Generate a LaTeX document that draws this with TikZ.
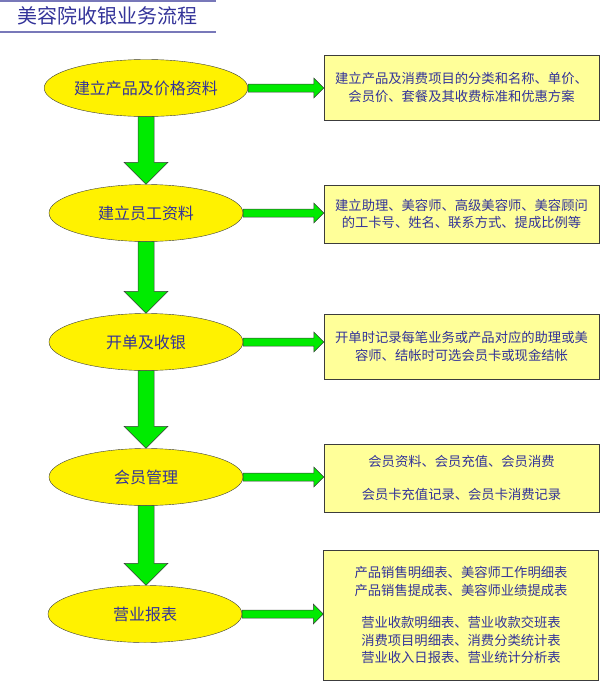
\documentclass[tikz,border=0pt]{standalone}
\usepackage{fontspec}
\newfontfamily\cjk{Noto Sans CJK SC}
\usetikzlibrary{shapes.geometric,calc}
\definecolor{txtblue}{RGB}{51,51,153}
\definecolor{lineblue}{RGB}{120,120,185}
\definecolor{notefill}{RGB}{255,255,153}
\definecolor{arrowgreen}{RGB}{0,235,0}
\definecolor{edgegray}{RGB}{60,60,60}

% block arrows between named nodes
\newcommand\varrow[2]{\draw[blockarrow] let \p1=(#1.south), \p2=(#2.north) in
  (\x1-8,\y1) -- (\x1-8,\y2+22) -- (\x1-22,\y2+22) -- (\x1,\y2) -- (\x1+22,\y2+22) -- (\x1+8,\y2+22) -- (\x1+8,\y1) -- cycle;}
\newcommand\harrow[2]{\draw[blockarrow] let \p1=(#1.east), \p2=(#1.east -| #2.west) in
  (\x1,\y1+4) -- (\x2-10,\y1+4) -- (\x2-10,\y1+10) -- (\x2,\y1) -- (\x2-10,\y1-10) -- (\x2-10,\y1-4) -- (\x1,\y1-4) -- cycle;}

\begin{document}
\begin{tikzpicture}[x=1pt,y=-1pt,
	stage/.style={ellipse,draw=edgegray,fill=yellow,minimum width=194pt,minimum height=57pt,inner sep=0pt,text=txtblue,font=\cjk\fontsize{16}{18}\selectfont},
	note/.style={rectangle,draw=edgegray,fill=notefill,minimum width=275pt,inner sep=0pt,align=center,text=txtblue,font=\cjk\fontsize{13.3}{17.5}\selectfont},
	blockarrow/.style={draw=edgegray,fill=arrowgreen,line width=0.5pt}]
	\useasboundingbox (0,0) rectangle (600,681);

	\node [anchor=west,text=txtblue,font=\cjk\fontsize{20}{22}\selectfont] (title) at (14,16) {美容院收银业务流程};
	\draw [lineblue,line width=2pt] (0,1) -- (216,1);	\draw [lineblue,line width=2pt] (0,32) -- (216,32);

	\node [stage] (e1) at (146,88) {建立产品及价格资料};
	\node [stage] (e2) at (146,213) {建立员工资料};
	\node [stage] (e3) at (146,342) {开单及收银};
	\node [stage] (e4) at (146,477) {会员管理};
	\node [stage] (e5) at (145,614) {营业报表};

	\node [note,minimum height=65pt] (b1) at (461.5,87.5) {建立产品及消费项目的分类和名称、单价、\\会员价、套餐及其收费标准和优惠方案};
	\node [note,minimum height=58pt] (b2) at (461.5,214) {建立助理、美容师、高级美容师、美容顾问\\的工卡号、姓名、联系方式、提成比例等};
	\node [note,minimum height=65pt] (b3) at (461.5,346.5) {开单时记录每笔业务或产品对应的助理或美\\容师、结帐时可选会员卡或现金结帐};
	\node [note,minimum height=68pt] (b4) at (461.5,478) {会员资料、会员充值、会员消费\\[15pt]会员卡充值记录、会员卡消费记录};
	\node [note,minimum height=130pt] (b5) at (461,615) {产品销售明细表、美容师工作明细表\\产品销售提成表、美容师业绩提成表\\[15pt]营业收款明细表、营业收款交班表\\消费项目明细表、消费分类统计表\\营业收入日报表、营业统计分析表};

	\varrow{e1}{e2}	\varrow{e2}{e3}	\varrow{e3}{e4}	\varrow{e4}{e5}
	\harrow{e1}{b1}	\harrow{e2}{b2}	\harrow{e3}{b3}	\harrow{e4}{b4}	\harrow{e5}{b5}
\end{tikzpicture}
\end{document}
